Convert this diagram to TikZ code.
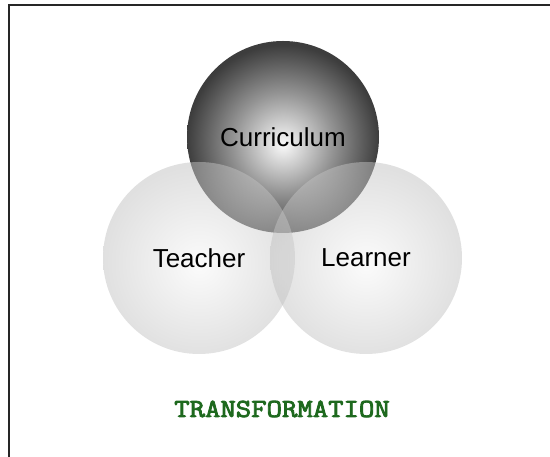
\documentclass[tikz,border=0pt]{standalone}
\usepackage{fontspec}
\setmainfont{Liberation Sans}
\newfontfamily\transfont[FakeBold=3]{Latin Modern Mono}
\usetikzlibrary{calc}
\definecolor{transgreen}{RGB}{30,105,30}
\pgfdeclareradialshading{curricshade}{\pgfpoint{0bp}{-2bp}}{color(0bp)=(black!2); color(13bp)=(black!42); color(25bp)=(black!76); color(50bp)=(black!76)}
\pgfdeclareradialshading{sideshade}{\pgfpoint{0bp}{-2bp}}{color(0bp)=(black!3); color(25bp)=(black!24); color(50bp)=(black!24)}

\begin{document}
\begin{tikzpicture}[x=1pt,y=1pt,
  venn/.style={circle,minimum size=192pt,inner sep=0pt,shade,text=black,
    font=\fontsize{26}{30}\selectfont}]
\useasboundingbox (0,0) rectangle (550,457);
\clip (0,0) rectangle (550,457);

%cornice
\draw[line width=2pt,black!85] (9,452) rectangle (600,-20);

% cerchi
\node[venn,shading=curricshade] (curriculum) at (283,320) {Curriculum};
\node[venn,shading=sideshade,fill opacity=0.5,text opacity=1] (teacher) at (199,199) {Teacher};
\node[venn,shading=sideshade,fill opacity=0.5,text opacity=1] (learner) at (366,199) {Learner};

%titolo
\node[font=\transfont\fontsize{26}{30}\selectfont,text=transgreen,
  xscale=1.15,transform shape] (transformation) at (282,48) {TRANSFORMATION};
\end{tikzpicture}
\end{document}
